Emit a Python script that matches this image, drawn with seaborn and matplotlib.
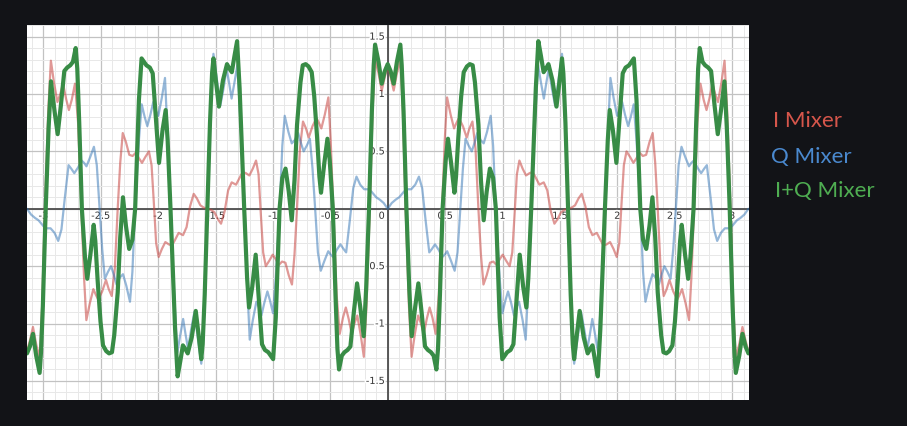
import numpy as np
import pandas as pd
import seaborn as sns
import matplotlib.pyplot as plt
from matplotlib.ticker import MultipleLocator
from matplotlib.transforms import offset_copy
import matplotlib.patheffects as pe

# values (x in radians, -pi .. pi)

red_x = [-3.142, -3.117, -3.090, -3.062, -3.032, -3.010, -2.986, -2.957, -2.934, -2.907,
         -2.877, -2.852, -2.828, -2.802, -2.777, -2.752, -2.724, -2.697, -2.668, -2.645,
         -2.625, -2.594, -2.564, -2.542, -2.522, -2.487, -2.454, -2.430, -2.404, -2.377,
         -2.352, -2.330, -2.308, -2.280, -2.251, -2.222, -2.193, -2.167, -2.140, -2.112,
         -2.080, -2.057, -2.037, -2.017, -1.995, -1.967, -1.937, -1.907, -1.879, -1.852,
         -1.821, -1.783, -1.752, -1.722, -1.690, -1.662, -1.632, -1.602,
         -1.571, -1.540, -1.510, -1.480, -1.452, -1.420, -1.390, -1.359, -1.321, -1.290,
         -1.263, -1.235, -1.205, -1.175, -1.147, -1.125, -1.105, -1.085, -1.062, -1.030,
         -1.002, -0.975, -0.949, -0.920, -0.891, -0.862, -0.834, -0.812, -0.790, -0.765,
         -0.738, -0.712, -0.688, -0.655, -0.620, -0.600, -0.578, -0.548, -0.517, -0.497,
         -0.474, -0.445, -0.418, -0.390, -0.365, -0.340, -0.314, -0.290, -0.265, -0.235,
         -0.208, -0.185, -0.156, -0.132, -0.110, -0.080, -0.052, -0.025, 0.000,
         0.025, 0.052, 0.080, 0.110, 0.132, 0.156, 0.185, 0.208, 0.235, 0.265,
         0.290, 0.314, 0.340, 0.365, 0.390, 0.418, 0.445, 0.474, 0.497, 0.517,
         0.548, 0.578, 0.600, 0.620, 0.655, 0.688, 0.712, 0.738, 0.765, 0.790,
         0.812, 0.834, 0.862, 0.891, 0.920, 0.949, 0.975, 1.002, 1.030, 1.062,
         1.085, 1.105, 1.125, 1.147, 1.175, 1.205, 1.235, 1.263, 1.290, 1.321,
         1.359, 1.390, 1.420, 1.452, 1.480, 1.510, 1.540, 1.571,
         1.602, 1.632, 1.662, 1.690, 1.722, 1.752, 1.783, 1.821, 1.852, 1.879,
         1.907, 1.937, 1.967, 1.995, 2.017, 2.037, 2.057, 2.080, 2.112, 2.140,
         2.167, 2.193, 2.222, 2.251, 2.280, 2.308, 2.330, 2.352, 2.377, 2.404,
         2.430, 2.454, 2.487, 2.522, 2.542, 2.564, 2.594, 2.625, 2.645, 2.668,
         2.697, 2.724, 2.752, 2.777, 2.802, 2.828, 2.852, 2.877, 2.907, 2.934,
         2.957, 2.986, 3.010, 3.032, 3.062, 3.090, 3.117, 3.142]
red_y = [-1.24, -1.15, -1.03, -1.18, -1.30, -0.85, 0.00, 0.85, 1.29, 1.10,
         0.93, 1.00, 1.09, 0.96, 0.86, 0.95, 1.09, 0.75, 0.00, -0.60,
         -0.97, -0.82, -0.70, -0.75, -0.79, -0.72, -0.62, -0.70, -0.76, -0.52,
         0.00, 0.40, 0.66, 0.58, 0.47, 0.46, 0.49, 0.44, 0.40, 0.45,
         0.50, 0.38, 0.05, -0.30, -0.42, -0.35, -0.29, -0.31, -0.32, -0.27,
         -0.21, -0.23, -0.16, 0.02, 0.13, 0.09, 0.03, 0.01,
         0.00, -0.01, -0.03, -0.09, -0.13, -0.02, 0.16, 0.23, 0.21, 0.27,
         0.32, 0.31, 0.29, 0.35, 0.42, 0.30, -0.05, -0.38, -0.50, -0.45,
         -0.40, -0.44, -0.49, -0.46, -0.47, -0.58, -0.66, -0.40, 0.00, 0.52,
         0.76, 0.70, 0.62, 0.72, 0.79, 0.75, 0.70, 0.82, 0.97, 0.60,
         0.00, -0.75, -1.09, -0.95, -0.86, -0.96, -1.09, -1.00, -0.93, -1.10,
         -1.29, -0.85, 0.00, 0.85, 1.30, 1.18, 1.03, 1.15, 1.24,
         1.15, 1.03, 1.18, 1.30, 0.85, 0.00, -0.85, -1.29, -1.10, -0.93,
         -1.00, -1.09, -0.96, -0.86, -0.95, -1.09, -0.75, 0.00, 0.60, 0.97,
         0.82, 0.70, 0.75, 0.79, 0.72, 0.62, 0.70, 0.76, 0.52, 0.00,
         -0.40, -0.66, -0.58, -0.47, -0.46, -0.49, -0.44, -0.40, -0.45, -0.50,
         -0.38, -0.05, 0.30, 0.42, 0.35, 0.29, 0.31, 0.32, 0.27, 0.21,
         0.23, 0.16, -0.02, -0.13, -0.09, -0.03, -0.01, 0.00,
         0.01, 0.03, 0.09, 0.13, 0.02, -0.16, -0.23, -0.21, -0.27, -0.32,
         -0.31, -0.29, -0.35, -0.42, -0.30, 0.05, 0.38, 0.50, 0.45, 0.40,
         0.44, 0.49, 0.46, 0.47, 0.58, 0.66, 0.40, 0.00, -0.52, -0.76,
         -0.70, -0.62, -0.72, -0.79, -0.75, -0.70, -0.82, -0.97, -0.60, 0.00,
         0.75, 1.09, 0.95, 0.86, 0.96, 1.09, 1.00, 0.93, 1.10, 1.29,
         0.85, 0.00, -0.85, -1.30, -1.18, -1.03, -1.15, -1.24]

blue_x = [-3.142, -3.107, -3.072, -3.042, -3.000, -2.972, -2.937, -2.902, -2.870, -2.842,
          -2.812, -2.780, -2.757, -2.730, -2.697, -2.667, -2.645, -2.624, -2.592, -2.559,
          -2.534, -2.510, -2.487, -2.464, -2.437, -2.410, -2.387, -2.362, -2.334, -2.306,
          -2.277, -2.245, -2.224, -2.201, -2.167, -2.143, -2.117, -2.094, -2.067, -2.042,
          -2.022, -1.998, -1.967, -1.940, -1.920, -1.896, -1.852, -1.832, -1.807, -1.782,
          -1.760, -1.739, -1.712, -1.684, -1.647, -1.624, -1.607, -1.592,
          -1.571, -1.550, -1.535, -1.518, -1.495, -1.458, -1.430, -1.403, -1.382, -1.360,
          -1.335, -1.310, -1.290, -1.246, -1.222, -1.202, -1.175, -1.144, -1.120, -1.100,
          -1.075, -1.048, -1.025, -0.999, -0.975, -0.941, -0.918, -0.897, -0.865, -0.836,
          -0.808, -0.780, -0.755, -0.732, -0.705, -0.678, -0.655, -0.632, -0.608, -0.583,
          -0.550, -0.518, -0.497, -0.475, -0.445, -0.412, -0.385, -0.362, -0.330, -0.300,
          -0.272, -0.240, -0.205, -0.170, -0.142, -0.100, -0.070, -0.035, 0.000,
          0.035, 0.070, 0.100, 0.142, 0.170, 0.205, 0.240, 0.272, 0.300, 0.330,
          0.362, 0.385, 0.412, 0.445, 0.475, 0.497, 0.518, 0.550, 0.583, 0.608,
          0.632, 0.655, 0.678, 0.705, 0.732, 0.755, 0.780, 0.808, 0.836, 0.865,
          0.897, 0.918, 0.941, 0.975, 0.999, 1.025, 1.048, 1.075, 1.100, 1.120,
          1.144, 1.175, 1.202, 1.222, 1.246, 1.290, 1.310, 1.335, 1.360, 1.382,
          1.403, 1.430, 1.458, 1.495, 1.518, 1.535, 1.550, 1.571,
          1.592, 1.607, 1.624, 1.647, 1.684, 1.712, 1.739, 1.760, 1.782, 1.807,
          1.832, 1.852, 1.896, 1.920, 1.940, 1.967, 1.998, 2.022, 2.042, 2.067,
          2.094, 2.117, 2.143, 2.167, 2.201, 2.224, 2.245, 2.277, 2.306, 2.334,
          2.362, 2.387, 2.410, 2.437, 2.464, 2.487, 2.510, 2.534, 2.559, 2.592,
          2.624, 2.645, 2.667, 2.697, 2.730, 2.757, 2.780, 2.812, 2.842, 2.870,
          2.902, 2.937, 2.972, 3.000, 3.042, 3.072, 3.107, 3.142]
blue_y = [0.00, -0.05, -0.08, -0.10, -0.15, -0.17, -0.17, -0.21, -0.28, -0.18,
          0.10, 0.38, 0.35, 0.31, 0.36, 0.42, 0.40, 0.37, 0.45, 0.54,
          0.38, 0.00, -0.35, -0.61, -0.55, -0.50, -0.57, -0.66, -0.60, -0.57,
          -0.67, -0.81, -0.55, 0.00, 0.60, 0.91, 0.80, 0.72, 0.82, 0.93,
          0.86, 0.81, 0.97, 1.14, 0.70, 0.00, -0.90, -1.25, -1.10, -0.96,
          -1.10, -1.22, -1.05, -0.90, -1.18, -1.35, -1.15, -0.70,
          0.00, 0.70, 1.15, 1.35, 1.18, 0.90, 1.05, 1.22, 1.10, 0.96,
          1.10, 1.25, 0.90, 0.00, -0.70, -1.14, -0.97, -0.81, -0.86, -0.93,
          -0.82, -0.72, -0.80, -0.91, -0.60, 0.00, 0.55, 0.81, 0.67, 0.57,
          0.60, 0.66, 0.57, 0.50, 0.55, 0.61, 0.35, 0.00, -0.38, -0.54,
          -0.45, -0.37, -0.40, -0.42, -0.36, -0.31, -0.35, -0.38, -0.10, 0.18,
          0.28, 0.21, 0.17, 0.17, 0.15, 0.10, 0.08, 0.05, 0.00,
          0.05, 0.08, 0.10, 0.15, 0.17, 0.17, 0.21, 0.28, 0.18, -0.10,
          -0.38, -0.35, -0.31, -0.36, -0.42, -0.40, -0.37, -0.45, -0.54, -0.38,
          0.00, 0.35, 0.61, 0.55, 0.50, 0.57, 0.66, 0.60, 0.57, 0.67,
          0.81, 0.55, 0.00, -0.60, -0.91, -0.80, -0.72, -0.82, -0.93, -0.86,
          -0.81, -0.97, -1.14, -0.70, 0.00, 0.90, 1.25, 1.10, 0.96, 1.10,
          1.22, 1.05, 0.90, 1.18, 1.35, 1.15, 0.70, 0.00,
          -0.70, -1.15, -1.35, -1.18, -0.90, -1.05, -1.22, -1.10, -0.96, -1.10,
          -1.25, -0.90, 0.00, 0.70, 1.14, 0.97, 0.81, 0.86, 0.93, 0.82,
          0.72, 0.80, 0.91, 0.60, 0.00, -0.55, -0.81, -0.67, -0.57, -0.60,
          -0.66, -0.57, -0.50, -0.55, -0.61, -0.35, 0.00, 0.38, 0.54, 0.45,
          0.37, 0.40, 0.42, 0.36, 0.31, 0.35, 0.38, 0.10, -0.18, -0.28,
          -0.21, -0.17, -0.17, -0.15, -0.10, -0.08, -0.05, 0.00]

green_x = [-3.142, -3.117, -3.090, -3.062, -3.032, -3.020, -3.004, -2.979, -2.954, -2.933,
           -2.902, -2.875, -2.847, -2.817, -2.792, -2.765, -2.742, -2.718, -2.704, -2.687,
           -2.664, -2.637, -2.617, -2.590, -2.561, -2.547, -2.527, -2.502, -2.480, -2.452,
           -2.427, -2.402, -2.382, -2.352, -2.330, -2.306, -2.280, -2.252, -2.224, -2.200,
           -2.184, -2.167, -2.144, -2.102, -2.072, -2.047, -2.020, -1.992, -1.962, -1.934,
           -1.917, -1.892, -1.852, -1.830, -1.807, -1.784, -1.764, -1.742, -1.707, -1.672,
           -1.647, -1.624, -1.612, -1.594,
           -1.571, -1.548, -1.530, -1.518, -1.495, -1.470, -1.435, -1.400, -1.378, -1.358,
           -1.335, -1.312, -1.290, -1.250, -1.225, -1.208, -1.180, -1.150, -1.122, -1.095,
           -1.070, -1.040, -0.998, -0.975, -0.958, -0.942, -0.918, -0.890, -0.862, -0.836,
           -0.812, -0.790, -0.760, -0.740, -0.715, -0.690, -0.662, -0.640, -0.615, -0.595,
           -0.581, -0.552, -0.525, -0.505, -0.478, -0.455, -0.438, -0.424, -0.400, -0.377,
           -0.350, -0.325, -0.295, -0.267, -0.240, -0.209, -0.188, -0.163, -0.138, -0.122,
           -0.110, -0.080, -0.052, -0.025, 0.000,
           0.025, 0.052, 0.080, 0.110, 0.122, 0.138, 0.163, 0.188, 0.209, 0.240,
           0.267, 0.295, 0.325, 0.350, 0.377, 0.400, 0.424, 0.438, 0.455, 0.478,
           0.505, 0.525, 0.552, 0.581, 0.595, 0.615, 0.640, 0.662, 0.690, 0.715,
           0.740, 0.760, 0.790, 0.812, 0.836, 0.862, 0.890, 0.918, 0.942, 0.958,
           0.975, 0.998, 1.040, 1.070, 1.095, 1.122, 1.150, 1.180, 1.208, 1.225,
           1.250, 1.290, 1.312, 1.335, 1.358, 1.378, 1.400, 1.435, 1.470, 1.495,
           1.518, 1.530, 1.548, 1.571,
           1.594, 1.612, 1.624, 1.647, 1.672, 1.707, 1.742, 1.764, 1.784, 1.807,
           1.830, 1.852, 1.892, 1.917, 1.934, 1.962, 1.992, 2.020, 2.047, 2.072,
           2.102, 2.144, 2.167, 2.184, 2.200, 2.224, 2.252, 2.280, 2.306, 2.330,
           2.352, 2.382, 2.402, 2.427, 2.452, 2.480, 2.502, 2.527, 2.547, 2.561,
           2.590, 2.617, 2.637, 2.664, 2.687, 2.704, 2.718, 2.742, 2.765, 2.792,
           2.817, 2.847, 2.875, 2.902, 2.933, 2.954, 2.979, 3.004, 3.020, 3.032,
           3.062, 3.090, 3.117, 3.142]
green_y = [-1.26, -1.20, -1.09, -1.28, -1.43, -1.25, -0.85, 0.00, 0.70, 1.11,
           0.85, 0.65, 0.90, 1.20, 1.23, 1.25, 1.28, 1.40, 1.22, 0.75,
           0.00, -0.42, -0.61, -0.40, -0.14, -0.28, -0.62, -0.98, -1.19, -1.24,
           -1.26, -1.25, -1.10, -0.73, -0.25, 0.10, -0.15, -0.35, -0.27, 0.00,
           0.45, 0.95, 1.31, 1.25, 1.23, 1.18, 0.80, 0.40, 0.68, 0.86,
           0.60, 0.00, -1.05, -1.46, -1.33, -1.19, -1.22, -1.26, -1.12, -0.89,
           -1.10, -1.31, -1.18, -0.75,
           0.00, 0.75, 1.18, 1.31, 1.10, 0.89, 1.12, 1.26, 1.22, 1.19,
           1.33, 1.46, 1.05, 0.00, -0.60, -0.86, -0.68, -0.40, -0.80, -1.18,
           -1.23, -1.25, -1.31, -0.95, -0.45, 0.00, 0.27, 0.35, 0.15, -0.10,
           0.25, 0.73, 1.10, 1.25, 1.26, 1.24, 1.19, 0.98, 0.62, 0.28,
           0.14, 0.40, 0.61, 0.42, 0.00, -0.75, -1.22, -1.40, -1.28, -1.25,
           -1.23, -1.20, -0.90, -0.65, -0.85, -1.11, -0.70, 0.00, 0.85, 1.25,
           1.43, 1.28, 1.09, 1.20, 1.26,
           1.20, 1.09, 1.28, 1.43, 1.25, 0.85, 0.00, -0.70, -1.11, -0.85,
           -0.65, -0.90, -1.20, -1.23, -1.25, -1.28, -1.40, -1.22, -0.75, 0.00,
           0.42, 0.61, 0.40, 0.14, 0.28, 0.62, 0.98, 1.19, 1.24, 1.26,
           1.25, 1.10, 0.73, 0.25, -0.10, 0.15, 0.35, 0.27, 0.00, -0.45,
           -0.95, -1.31, -1.25, -1.23, -1.18, -0.80, -0.40, -0.68, -0.86, -0.60,
           0.00, 1.05, 1.46, 1.33, 1.19, 1.22, 1.26, 1.12, 0.89, 1.10,
           1.31, 1.18, 0.75, 0.00,
           -0.75, -1.18, -1.31, -1.10, -0.89, -1.12, -1.26, -1.22, -1.19, -1.33,
           -1.46, -1.05, 0.00, 0.60, 0.86, 0.68, 0.40, 0.80, 1.18, 1.23,
           1.25, 1.31, 0.95, 0.45, 0.00, -0.27, -0.35, -0.15, 0.10, -0.25,
           -0.73, -1.10, -1.25, -1.26, -1.24, -1.19, -0.98, -0.62, -0.28, -0.14,
           -0.40, -0.61, -0.42, 0.00, 0.75, 1.22, 1.40, 1.28, 1.25, 1.23,
           1.20, 0.90, 0.65, 0.85, 1.11, 0.70, 0.00, -0.85, -1.25, -1.43,
           -1.28, -1.09, -1.20, -1.26]

x_ticks = [-3, -2.5, -2, -1.5, -1, -0.5, 0.5, 1, 1.5, 2, 2.5, 3]
x_tick_labels = ['-3', '-2.5', '-2', '-1.5', '-1', '-0.5', '0.5', '1', '1.5', '2', '2.5', '3']
y_ticks = [-1.5, -1, -0.5, 0.5, 1, 1.5]
y_tick_labels = ['-1.5', '-1', '-0.5', '0.5', '1', '1.5']

legend_labels = ['I Mixer', 'Q Mixer', 'I+Q Mixer']
legend_colors = ['#d6564b', '#4a89cf', '#4fae52']

# Figure

sns.set_style('white')
plt.rcParams['font.family'] = ['Lato', 'DejaVu Sans']

fig = plt.figure(figsize=(9.07, 4.27), dpi=100, facecolor='#121317')
ax = fig.add_axes([27/907, 26/427, 722/907, 375/427])
ax.set_facecolor('white')

ax.xaxis.set_major_locator(MultipleLocator(0.5))
ax.xaxis.set_minor_locator(MultipleLocator(0.1))
ax.yaxis.set_major_locator(MultipleLocator(0.5))
ax.yaxis.set_minor_locator(MultipleLocator(0.1))
ax.grid(which='minor', color='#e8e8e8', lw=0.7)
ax.grid(which='major', color='#c2c2c2', lw=0.9)
ax.tick_params(which='both', length=0, labelbottom=False, labelleft=False)
for s in ax.spines.values():
    s.set_visible(False)
ax.axhline(0, color='#4d4d4d', lw=1.3, zorder=1.5)
ax.axvline(0, color='#4d4d4d', lw=1.3, zorder=1.5)

sns.lineplot(x=red_x, y=red_y, ax=ax, color='#c74440', alpha=0.55, lw=1.6,
             sort=False, estimator=None, zorder=3, solid_joinstyle='round')
sns.lineplot(x=blue_x, y=blue_y, ax=ax, color='#2d70b3', alpha=0.5, lw=1.6,
             sort=False, estimator=None, zorder=3, solid_joinstyle='round')
sns.lineplot(x=green_x, y=green_y, ax=ax, color='#388c46', lw=3.0,
             sort=False, estimator=None, zorder=4, solid_joinstyle='round')

ax.set_xlim(-3.142, 3.147)
ax.set_ylim(-1.666, 1.601)

# axis numbers drawn on the axes like the graphing calculator does
halo = [pe.withStroke(linewidth=2.5, foreground='white')]
below = offset_copy(ax.transData, fig=fig, x=0, y=-7, units='dots')
left = offset_copy(ax.transData, fig=fig, x=-3, y=0, units='dots')
for t, lab in zip(x_ticks, x_tick_labels):
    ax.text(t, 0, lab, transform=below, ha='center', va='center', fontsize=7,
            color='#333333', family='DejaVu Sans', path_effects=halo, zorder=2)
for t, lab in zip(y_ticks, y_tick_labels):
    ax.text(0, t, lab, transform=left, ha='right', va='center', fontsize=7,
            color='#333333', family='DejaVu Sans', path_effects=halo, zorder=2)
ax.text(0, 0, '0', transform=offset_copy(ax.transData, fig=fig, x=-3, y=-7, units='dots'),
        ha='right', va='center', fontsize=7, color='#333333', family='DejaVu Sans',
        path_effects=halo, zorder=2)

# Legend at the right
legend_pos = [(773, 121), (771, 157), (775, 191)]
for lab, col, (px, py) in zip(legend_labels, legend_colors, legend_pos):
    fig.text(px/907, 1 - py/427, lab, color=col, fontsize=16, ha='left', va='center')

fig.savefig('out.png', dpi=100, facecolor=fig.get_facecolor())
